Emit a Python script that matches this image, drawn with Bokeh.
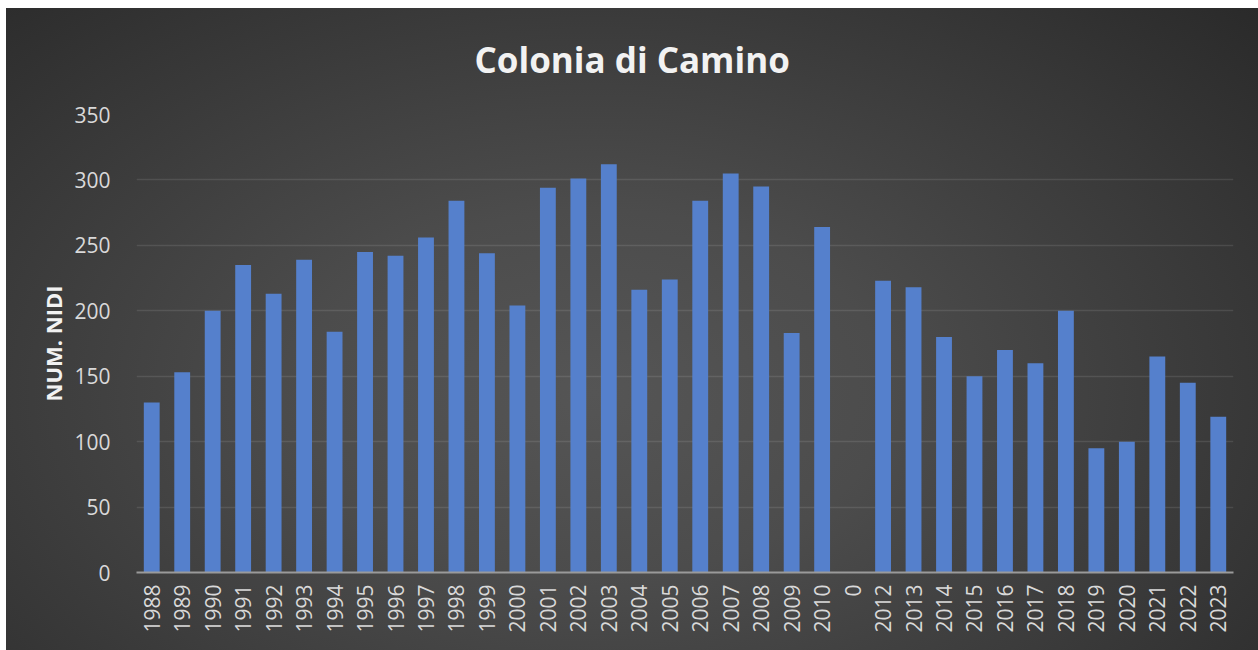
from bokeh.plotting import figure
from bokeh.models import ColumnDataSource, FactorRange, Range1d, Title, SingleIntervalTicker
from bokeh.embed import file_html
from bokeh.resources import INLINE
from math import pi

# ---- data ----
years = ["1988", "1989", "1990", "1991", "1992", "1993", "1994", "1995", "1996", "1997",
         "1998", "1999", "2000", "2001", "2002", "2003", "2004", "2005", "2006", "2007",
         "2008", "2009", "2010", "0", "2012", "2013", "2014", "2015", "2016", "2017",
         "2018", "2019", "2020", "2021", "2022", "2023"]
nidi = [130, 153, 200, 235, 213, 239, 184, 245, 242, 256,
        284, 244, 204, 294, 301, 312, 216, 224, 284, 305,
        295, 183, 264, 0, 223, 218, 180, 150, 170, 160,
        200, 95, 100, 165, 145, 119]
title_text = "Colonia di Camino"
y_label = "NUM. NIDI"

src = ColumnDataSource(dict(x=years, top=nidi))

FONT = "Open Sans"

p = figure(width=1252, height=650,
           x_range=FactorRange(*years, range_padding=0),
           y_range=Range1d(0, 350),
           output_backend="svg", toolbar_location=None,
           min_border_left=130, min_border_right=25,
           min_border_top=114, min_border_bottom=78)

p.styles = {"margin-left": "6px",
            "background":
            "linear-gradient(#ffffff, #ffffff) 0 0 / 100% 8px no-repeat, "
            "radial-gradient(ellipse 78% 95% at 47% 60%, #555555 0%, #4c4c4c 30%, #262626 100%) "
            "0 8px / 100% calc(100% - 8px) no-repeat"}
p.border_fill_color = None
p.background_fill_color = None
p.outline_line_color = None

p.vbar(x="x", top="top", width=0.52, source=src,
       fill_color="#5580cc", line_color=None)

# grid
p.xgrid.grid_line_color = None
p.ygrid.grid_line_color = "#ffffff"
p.ygrid.grid_line_alpha = 0.1
p.ygrid.grid_line_width = 1.5
p.yaxis.ticker = SingleIntervalTicker(interval=50)

# y axis
p.yaxis.axis_line_color = None
p.yaxis.major_tick_line_color = None
p.yaxis.minor_tick_line_color = None
p.yaxis.major_tick_out = 0
p.yaxis.major_label_standoff = 22
p.yaxis.major_label_text_font = FONT
p.yaxis.major_label_text_font_size = "21px"
p.yaxis.major_label_text_color = "#d9d9d9"
p.yaxis.axis_label = y_label
p.yaxis.axis_label_text_font = FONT
p.yaxis.axis_label_text_font_style = "bold"
p.yaxis.axis_label_text_font_size = "22px"
p.yaxis.axis_label_text_color = "#f2f2f2"
p.yaxis.axis_label_standoff = 3

# x axis
p.xaxis.axis_line_color = "#9a9a9a"
p.xaxis.axis_line_width = 2
p.xaxis.major_tick_line_color = None
p.xaxis.minor_tick_line_color = None
p.xaxis.major_tick_out = 0
p.xaxis.major_label_standoff = 12
p.xaxis.major_label_orientation = pi / 2
p.xaxis.major_label_text_font = FONT
p.xaxis.major_label_text_font_size = "21px"
p.xaxis.major_label_text_color = "#d9d9d9"

# title
t = Title(text=title_text, align="left", offset=338, standoff=64,
          text_font=FONT, text_font_style="bold", text_font_size="35px",
          text_color="#f2f2f2")
p.add_layout(t, "above")

open("out.html", "w").write(file_html(p, INLINE))
